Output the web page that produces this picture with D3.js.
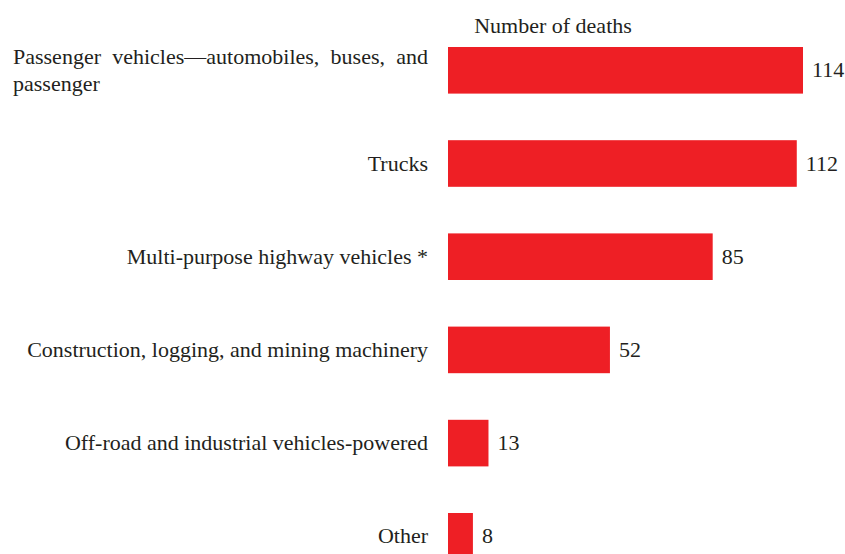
<!DOCTYPE html>
<html>
<head>
<meta charset="utf-8">
<script src="https://cdn.jsdelivr.net/npm/d3@7"></script>
<style>
  body { margin: 0; background: #fff; }
  text { font-family: "Liberation Serif", "Times New Roman", serif; fill: #231f20; }
</style>
</head>
<body>
<div class="chart"></div>
<script>
// Chart data
var categories = [
  "Passenger vehicles\u2014automobiles, buses, and passenger",
  "Trucks",
  "Multi-purpose highway vehicles *",
  "Construction, logging, and mining machinery",
  "Off-road and industrial vehicles-powered",
  "Other"
];
var deaths = [114, 112, 85, 52, 13, 8];
var axisTitle = "Number of deaths";

var svgWidth = 845;
var svgHeight = 554;
var fontSize = "22px";

var svg = d3.select(".chart")
  .append("svg")
  .attr("width", svgWidth)
  .attr("height", svgHeight);

var data = categories.map((c, i) => ({ name: c, value: deaths[i] }));

// x scale: bars start at 448
var xScale = d3.scaleLinear()
  .domain([0, 114])
  .range([448, 803]);

var yScale = d3.scaleBand()
  .domain(categories)
  .range([47, 559.6])
  .paddingInner(0.5)
  .paddingOuter(0);

// title
svg.append("text")
  .attr("x", 553)
  .attr("y", 33)
  .attr("text-anchor", "middle")
  .style("font-size", fontSize)
  .text(axisTitle);

// bars
svg.selectAll(".bar")
  .data(data)
  .enter()
  .append("rect")
  .attr("class", "bar")
  .attr("x", xScale(0))
  .attr("y", d => yScale(d.name))
  .attr("width", d => xScale(d.value) - xScale(0))
  .attr("height", yScale.bandwidth())
  .attr("fill", "#ee1f25");

// value labels
svg.selectAll(".val")
  .data(data)
  .enter()
  .append("text")
  .attr("class", "val")
  .attr("x", d => xScale(d.value) + 9)
  .attr("y", d => yScale(d.name) + yScale.bandwidth() / 2 + 7)
  .style("font-size", fontSize)
  .text(d => d.value);

// category labels (first one wraps onto two lines, justified)
var labelRight = 428;
svg.selectAll(".cat")
  .data(data)
  .enter()
  .append("g")
  .attr("class", "cat")
  .each(function(d, i) {
    var g = d3.select(this);
    var cy = yScale(d.name) + yScale.bandwidth() / 2;
    if (i === 0) {
      var line1 = "Passenger vehicles\u2014automobiles, buses, and";
      var t = g.append("text")
        .attr("x", 13)
        .attr("y", cy - 6)
        .style("font-size", fontSize)
        .text(line1);
      // justify by widening the word gaps
      var natural = t.node().getComputedTextLength();
      var gaps = line1.split(" ").length - 1;
      t.style("word-spacing", ((labelRight - 13 - natural) / gaps) + "px");
      g.append("text")
        .attr("x", 13)
        .attr("y", cy + 21)
        .style("font-size", fontSize)
        .text("passenger");
    } else {
      g.append("text")
        .attr("x", labelRight)
        .attr("y", cy + 7)
        .attr("text-anchor", "end")
        .style("font-size", fontSize)
        .text(d.name);
    }
  });
</script>
</body>
</html>
